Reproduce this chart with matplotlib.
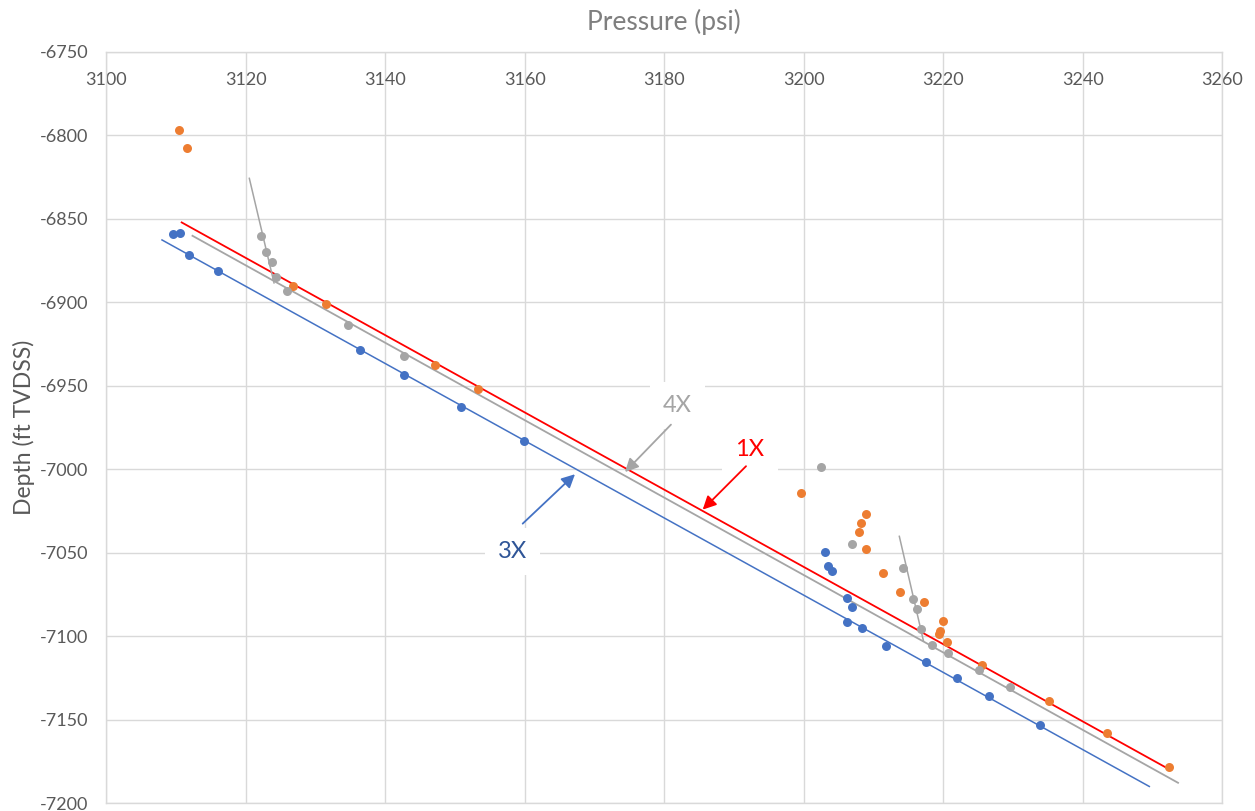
import matplotlib
matplotlib.use("Agg")
import matplotlib.pyplot as plt

plt.rcParams['font.family'] = ['Lato', 'DejaVu Sans']
plt.rcParams['axes.unicode_minus'] = False

# ---- data (pressure psi, depth ft TVDSS) ----
blue_p = [3109.62, 3110.58, 3111.91, 3116.07, 3136.39, 3142.74, 3150.84, 3159.94,
          3203.05, 3203.53, 3204.01, 3206.25, 3206.97, 3206.21, 3208.40, 3211.83,
          3217.51, 3221.91, 3226.52, 3233.92]
blue_d = [-6859.1, -6858.5, -6872.0, -6881.2, -6929.0, -6943.6, -6963.0, -6983.2,
          -7049.9, -7058.1, -7061.3, -7077.5, -7082.7, -7091.8, -7095.0, -7106.0,
          -7115.3, -7125.4, -7136.2, -7153.4]

orange_p = [3110.44, 3111.63, 3126.82, 3131.47, 3147.18, 3153.35, 3199.57, 3208.93,
            3208.17, 3207.93, 3208.93, 3211.37, 3213.81, 3217.25, 3219.93, 3219.54,
            3219.35, 3220.50, 3225.59, 3235.17, 3243.44, 3252.33]
orange_d = [-6797.2, -6807.6, -6890.1, -6901.4, -6937.4, -6951.8, -7014.1, -7027.1,
            -7032.3, -7037.7, -7047.9, -7062.3, -7073.7, -7079.7, -7090.8, -7097.1,
            -7098.6, -7103.8, -7117.1, -7139.0, -7158.2, -7178.6]

gray_p = [3122.17, 3122.94, 3123.70, 3124.34, 3125.88, 3134.67, 3142.74, 3202.52,
          3206.97, 3214.28, 3215.71, 3216.20, 3216.77, 3218.44, 3220.66, 3225.10,
          3229.53]
gray_d = [-6860.5, -6869.8, -6875.8, -6884.9, -6893.2, -6913.9, -6932.3, -6998.8,
          -7044.9, -7059.1, -7077.6, -7083.6, -7095.9, -7105.1, -7110.2, -7120.6,
          -7130.8]

# trend lines (end points)
red_line_p = [3110.82, 3252.26]
red_line_d = [-6852.3, -7179.5]
gray_line_p = [3112.37, 3253.67]
gray_line_d = [-6860.3, -7187.9]
blue_line_p = [3108.00, 3249.55]
blue_line_d = [-6862.8, -7190.1]
gray_seg1_p = [3120.52, 3124.06]
gray_seg1_d = [-6825.9, -6888.5]
gray_seg2_p = [3213.71, 3217.15]
gray_seg2_d = [-7040.3, -7102.6]

# annotation labels: text position, arrow start, arrow tip
labels = ['4X', '1X', '3X']
label_xy = [(3181.94, -6962.2), (3192.30, -6988.3), (3158.28, -7049.1)]
arrow_from = [(3180.97, -6973.4), (3191.73, -6998.3), (3159.71, -7032.7)]
arrow_to = [(3174.38, -7001.8), (3185.52, -7024.3), (3167.21, -7003.1)]
label_colors = ['#a5a5a5', '#ff0000', '#2f5597']
arrow_colors = ['#a5a5a5', '#ff0000', '#4472c4']

x_ticks = [3100, 3120, 3140, 3160, 3180, 3200, 3220, 3240, 3260]
y_ticks = [-6750, -6800, -6850, -6900, -6950, -7000, -7050, -7100, -7150, -7200]

BLUE = '#4472c4'
ORANGE = '#ed7d31'
GRAY = '#a5a5a5'
GRID = '#d9d9d9'
TXT = '#595959'

fig = plt.figure(figsize=(12.55, 8.11), dpi=100)
L, R, T, B = 106.2, 1222.2, 51.6, 803.0
ax = fig.add_axes([L / 1255, 1 - B / 811, (R - L) / 1255, (B - T) / 811])

ax.set_xlim(3100, 3260)
ax.set_ylim(-7200, -6750)
ax.set_xticks(x_ticks)
ax.set_yticks(y_ticks)
ax.grid(True, color=GRID, lw=1.0, zorder=0)
ax.set_axisbelow(True)
for s in ax.spines.values():
    s.set_color(GRID)
    s.set_linewidth(1.0)

ax.xaxis.tick_top()
ax.tick_params(axis='x', which='both', length=0, top=False, bottom=False,
               labeltop=True, labelbottom=False, pad=-26, labelsize=13, labelcolor=TXT)
ax.tick_params(axis='y', length=0, pad=13, labelsize=13, labelcolor=TXT)

# lines
ax.plot(blue_line_p, blue_line_d, color=BLUE, lw=1.1, zorder=2)
ax.plot(gray_line_p, gray_line_d, color=GRAY, lw=1.3, zorder=2)
ax.plot(red_line_p, red_line_d, color='#ff0000', lw=1.3, zorder=2)
ax.plot(gray_seg1_p, gray_seg1_d, color=GRAY, lw=1.1, zorder=2)
ax.plot(gray_seg2_p, gray_seg2_d, color=GRAY, lw=1.1, zorder=2)

# points
ax.scatter(blue_p, blue_d, s=42, color=BLUE, zorder=3, linewidths=0)
ax.scatter(orange_p, orange_d, s=42, color=ORANGE, zorder=3, linewidths=0)
ax.scatter(gray_p, gray_d, s=42, color=GRAY, zorder=3, linewidths=0)

# annotations
for lab, xy, fr, to, tc, ac in zip(labels, label_xy, arrow_from, arrow_to,
                                   label_colors, arrow_colors):
    ax.text(xy[0], xy[1], lab, color=tc, fontsize=17, ha='center', va='center',
            bbox=dict(facecolor='white', edgecolor='none', boxstyle='square,pad=0.55'),
            zorder=4)
    ax.annotate('', xy=to, xytext=fr,
                arrowprops=dict(arrowstyle='-|>', color=ac, lw=1.3,
                                mutation_scale=20, shrinkA=0, shrinkB=0),
                zorder=4)

ax.set_ylabel('Depth (ft TVDSS)', fontsize=16.5, color=TXT)
ax.yaxis.set_label_coords(-0.064, 0.5)
ax.text(0.5, 1 + (T - 22) / (B - T), 'Pressure (psi)', transform=ax.transAxes,
        ha='center', va='center', fontsize=19, color='#7f7f7f')

fig.savefig('out.png', dpi=100)
